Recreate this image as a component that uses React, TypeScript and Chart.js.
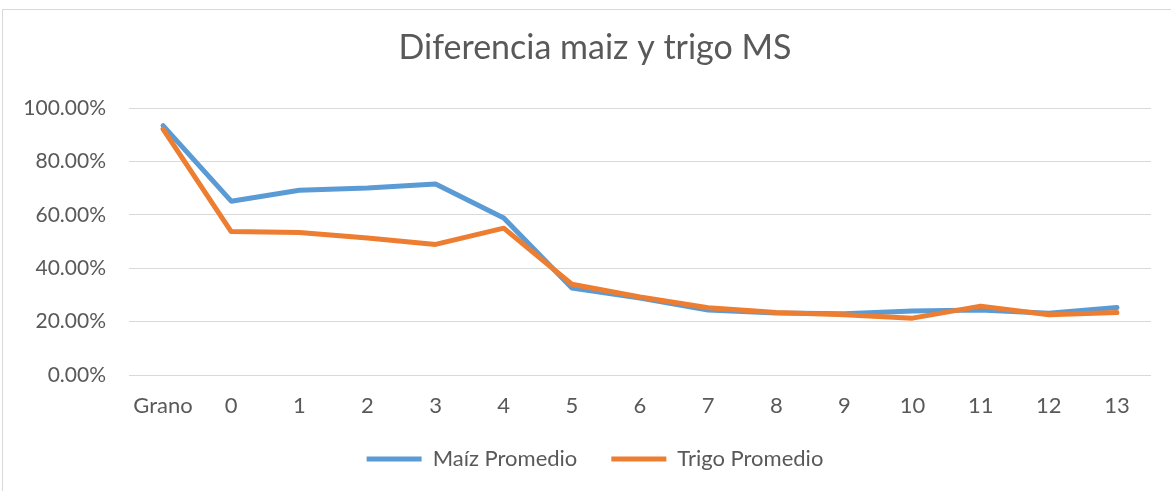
import React, { useEffect, useRef } from "react";
import { Chart, registerables } from "chart.js";

Chart.register(...registerables);

const categories = ["Grano", "0", "1", "2", "3", "4", "5", "6", "7", "8", "9", "10", "11", "12", "13"];
const maizPromedio = [93.4, 65.1, 69.2, 70.0, 71.5, 58.8, 32.6, 28.8, 24.3, 23.2, 22.9, 24.0, 24.3, 23.1, 25.3];
const trigoPromedio = [92.1, 53.7, 53.4, 51.3, 48.9, 55.0, 34.0, 29.2, 25.2, 23.4, 22.6, 21.3, 25.8, 22.6, 23.4];
const yTicks = [0, 20, 40, 60, 80, 100];

const TEXT = "#595959";
const FONT = "Lato";

const framePlugin = {
  id: "frame",
  beforeDraw(chart: any) {
    const ctx = chart.ctx;
    ctx.save();
    ctx.fillStyle = "#ffffff";
    ctx.fillRect(0, 0, chart.width, chart.height);
    ctx.strokeStyle = "#d9d9d9";
    ctx.lineWidth = 1;
    ctx.strokeRect(2.5, 9.5, chart.width + 50, chart.height + 50);
    ctx.restore();
  },
};

export default function App() {
  const ref = useRef<HTMLCanvasElement>(null);
  useEffect(() => {
    document.body.style.margin = "0";
    document.body.style.overflow = "hidden";
    const chart = new Chart(ref.current!, {
      type: "line",
      data: {
        labels: categories,
        datasets: [
          {
            label: "Maíz Promedio",
            data: maizPromedio,
            borderColor: "#5B9BD5",
            backgroundColor: "#5B9BD5",
            borderWidth: 5,
            borderCapStyle: "round",
            borderJoinStyle: "round",
            pointRadius: 0,
            tension: 0,
            order: 1,
          },
          {
            label: "Trigo Promedio",
            data: trigoPromedio,
            borderColor: "#ED7D31",
            backgroundColor: "#ED7D31",
            borderWidth: 5,
            borderCapStyle: "round",
            borderJoinStyle: "round",
            pointRadius: 0,
            tension: 0,
            order: 0,
          },
        ],
      },
      options: {
        animation: false,
        responsive: false,
        layout: { padding: { left: 0, right: 0, top: 0, bottom: 11 } },
        plugins: {
          title: {
            display: true,
            text: "Diferencia maiz y trigo MS",
            color: TEXT,
            font: { family: FONT, size: 34, weight: "normal" },
            padding: { top: 27.5, bottom: 39.7 },
          },
          legend: {
            position: "bottom",
            labels: {
              usePointStyle: true,
              pointStyle: "line",
              pointStyleWidth: 55,
              color: TEXT,
              padding: 34,
              font: { family: FONT, size: 22 },
              sort: (a: any, b: any) => a.datasetIndex - b.datasetIndex,
            },
          },
          tooltip: { enabled: false },
        },
        scales: {
          x: {
            offset: true,
            grid: { display: false, drawTicks: false },
            border: { display: false },
            ticks: { color: TEXT, font: { family: FONT, size: 22 }, padding: -44, mirror: true, maxRotation: 0, autoSkip: false },
            afterFit: (s: any) => { s.height = 39; },
          },
          y: {
            min: 0,
            max: 100,
            afterBuildTicks: (s: any) => { s.ticks = yTicks.map((v) => ({ value: v })); },
            grid: { color: "#d9d9d9", lineWidth: 1, drawTicks: false },
            border: { display: false },
            ticks: {
              color: TEXT,
              font: { family: FONT, size: 21 },
              padding: 23,
              callback: (v: any) => Number(v).toFixed(2) + "%",
            },
            afterFit: (s: any) => { s.width = 129; },
          },
          yPad: {
            type: "linear",
            position: "right",
            display: true,
            grid: { display: false, drawTicks: false },
            border: { display: false },
            ticks: { display: false },
            afterFit: (s: any) => { s.width = 39; },
          },
        },
      },
      plugins: [framePlugin],
    });
    return () => chart.destroy();
  }, []);
  return <canvas ref={ref} width={1190} height={491} style={{ display: "block" }} />;
}
